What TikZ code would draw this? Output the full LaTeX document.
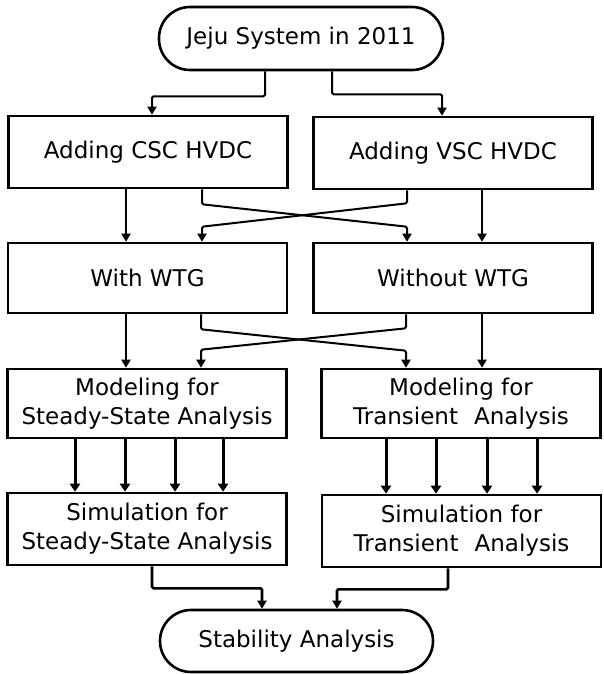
\documentclass[tikz,border=0pt]{standalone}
\usepackage{fontspec}
\setmainfont{DejaVu Sans}
\usetikzlibrary{arrows.meta,calc}
\begin{document}
\begin{tikzpicture}[x=1pt,y=-1pt,
  every node/.style={font=\fontsize{23}{29}\selectfont, align=center, inner sep=0pt},
  procbox/.style={draw, line width=2.6pt, rectangle, minimum width=279pt},
  termbox/.style={draw, line width=2.6pt, rectangle, rounded corners=31pt, minimum height=62pt},
  conn/.style={line width=2pt, -{Triangle[length=8pt,width=9pt]}, rounded corners=1.5pt},
  thick conn/.style={line width=3pt, -{Triangle[length=8pt,width=10pt]}}
]
\useasboundingbox (0,0) rectangle (603,674);

\node[termbox, minimum width=284pt, minimum height=63pt] (top) at (301,38.5) {Jeju System in 2011};

\node[procbox, minimum height=72pt] (csc) at (148,152) {Adding CSC HVDC};
\node[procbox, minimum height=72pt] (vsc) at (453,153) {Adding VSC HVDC};

\node[procbox, minimum height=70pt] (with) at (147.5,278) {With WTG};
\node[procbox, minimum height=70pt] (without) at (453,278) {Without WTG};

\node[procbox, minimum height=69pt] (modSS) at (147,403.5) {Modeling for\\Steady-State Analysis};
\node[procbox, minimum height=69pt] (modT) at (461,403.5) {Modeling for\\Transient\hspace{0.7em}Analysis};

\node[procbox, minimum height=72pt] (simSS) at (147,529) {Simulation for\\Steady-State Analysis};
\node[procbox, minimum height=72pt] (simT) at (461.5,531) {Simulation for\\Transient\hspace{0.7em}Analysis};

\node[termbox, minimum width=273pt] (stab) at (296.5,641) {Stability Analysis};

% top to HVDC boxes
\draw[conn] ([xshift=-36pt]top.south) -- ++(0,25) -| ([xshift=4pt]csc.north);
\draw[conn] ([xshift=31pt]top.south) -- ++(0,23) -| ([xshift=-11pt]vsc.north);

% HVDC to WTG
\draw[conn] ([xshift=-22pt]csc.south) -- ([xshift=-22pt]csc.south |- with.north);
\draw[conn] ([xshift=54pt]csc.south) -- ++(0,15) -- ([xshift=-46pt,yshift=15pt]without.north) -- ([xshift=-46pt]without.north);
\draw[conn] ([xshift=-46pt]vsc.south) -- ++(0,13) -- ([xshift=54.5pt,yshift=15pt]with.north) -- ([xshift=54.5pt]with.north);
\draw[conn] ([xshift=29pt]vsc.south) -- ([xshift=29pt]vsc.south |- without.north);

% WTG to Modeling
\draw[conn] ([xshift=-21.5pt]with.south) -- ([xshift=-21.5pt]with.south |- modSS.north);
\draw[conn] ([xshift=53.5pt]with.south) -- ++(0,15) -- ([xshift=-55pt,yshift=17pt]modT.north) -- ([xshift=-55pt]modT.north);
\draw[conn] ([xshift=-47pt]without.south) -- ++(0,14) -- ([xshift=54pt,yshift=18pt]modSS.north) -- ([xshift=54pt]modSS.north);
\draw[conn] ([xshift=29pt]without.south) -- ([xshift=29pt]without.south |- modT.north);

% Modeling to Simulation
\foreach \dx in {-72,-22,28,76}
  \draw[thick conn] ([xshift=\dx pt]modSS.south) -- ([xshift=\dx pt]modSS.south |- simSS.north);
\foreach \dx in {-75,-25,26,76}
  \draw[thick conn] ([xshift=\dx pt]modT.south) -- ([xshift=\dx pt]modT.south |- simT.north);

% Simulation to Stability
\draw[conn, line width=2.6pt] ([xshift=5pt]simSS.south) -- ++(0,22) -| ([xshift=-34.5pt]stab.north);
\draw[conn, line width=2.6pt] ([xshift=-13.5pt]simT.south) -- ++(0,21) -| ([xshift=40.5pt]stab.north);
\end{tikzpicture}
\end{document}
